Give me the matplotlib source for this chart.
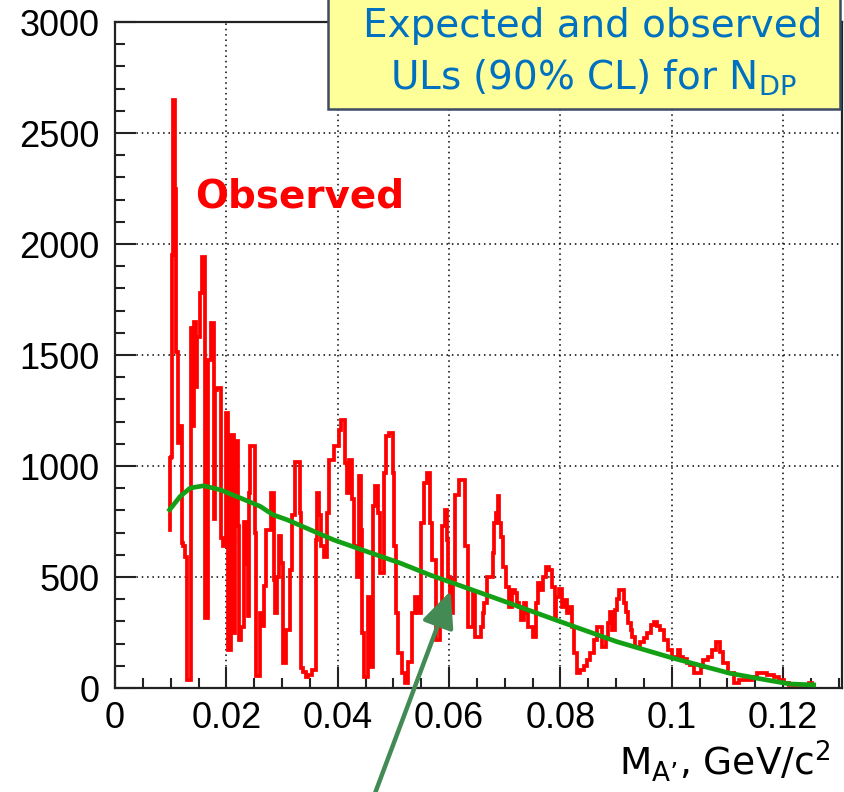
import numpy as np
import matplotlib.pyplot as plt
from matplotlib.patches import Rectangle, FancyArrowPatch
from matplotlib.ticker import MultipleLocator

plt.rcParams.update({"mathtext.default": "regular"})

# observed upper limit (red)
obs_mass = [
    0.0098, 0.0099, 0.0101, 0.0102, 0.0104, 0.0105, 0.0107, 0.0108, 0.0110, 0.0112,
    0.0113, 0.0116, 0.0119, 0.0120, 0.0124, 0.0126, 0.0129, 0.0130, 0.0136, 0.0137,
    0.0139, 0.0140, 0.0142, 0.0145, 0.0146, 0.0148, 0.0151, 0.0153, 0.0156, 0.0158,
    0.0161, 0.0163, 0.0166, 0.0168, 0.0171, 0.0173, 0.0176, 0.0178, 0.0180, 0.0183,
    0.0185, 0.0190, 0.0192, 0.0195, 0.0198, 0.0199, 0.0202, 0.0204, 0.0207, 0.0209,
    0.0213, 0.0215, 0.0217, 0.0220, 0.0222, 0.0224, 0.0226, 0.0228, 0.0231, 0.0234,
    0.0237, 0.0239, 0.0241, 0.0245, 0.0251, 0.0253, 0.0255, 0.0259, 0.0262, 0.0266,
    0.0270, 0.0274, 0.0278, 0.0281, 0.0284, 0.0286, 0.0289, 0.0293, 0.0296, 0.0300,
    0.0303, 0.0306, 0.0310, 0.0313, 0.0316, 0.0321, 0.0327, 0.0331, 0.0333, 0.0335,
    0.0340, 0.0345, 0.0350, 0.0356, 0.0360, 0.0362, 0.0365, 0.0368, 0.0372, 0.0378,
    0.0382, 0.0387, 0.0392, 0.0395, 0.0400, 0.0404, 0.0408, 0.0412, 0.0415, 0.0419,
    0.0423, 0.0427, 0.0432, 0.0436, 0.0440, 0.0442, 0.0445, 0.0449, 0.0452, 0.0456,
    0.0461, 0.0465, 0.0470, 0.0473, 0.0478, 0.0482, 0.0486, 0.0489, 0.0494, 0.0497,
    0.0500, 0.0503, 0.0506, 0.0512, 0.0518, 0.0524, 0.0530, 0.0536, 0.0542, 0.0548,
    0.0553, 0.0558, 0.0563, 0.0568, 0.0571, 0.0575, 0.0579, 0.0583, 0.0586, 0.0590,
    0.0594, 0.0597, 0.0601, 0.0604, 0.0609, 0.0614, 0.0620, 0.0626, 0.0630, 0.0637,
    0.0641, 0.0645, 0.0650, 0.0656, 0.0659, 0.0662, 0.0665, 0.0671, 0.0677, 0.0680,
    0.0683, 0.0686, 0.0689, 0.0692, 0.0695, 0.0700, 0.0706, 0.0711, 0.0716, 0.0720,
    0.0723, 0.0728, 0.0732, 0.0736, 0.0740, 0.0745, 0.0748, 0.0753, 0.0758, 0.0762,
    0.0767, 0.0771, 0.0777, 0.0782, 0.0788, 0.0791, 0.0794, 0.0800, 0.0806, 0.0809,
    0.0813, 0.0819, 0.0823, 0.0827, 0.0833, 0.0839, 0.0845, 0.0850, 0.0856, 0.0863,
    0.0867, 0.0872, 0.0876, 0.0880, 0.0884, 0.0887, 0.0891, 0.0895, 0.0900, 0.0904,
    0.0908, 0.0912, 0.0916, 0.0920, 0.0924, 0.0928, 0.0931, 0.0938, 0.0947, 0.0953,
    0.0959, 0.0965, 0.0970, 0.0976, 0.0982, 0.0991, 0.0997, 0.1003, 0.1009, 0.1012,
    0.1018, 0.1024, 0.1030, 0.1036, 0.1045, 0.1050, 0.1054, 0.1060, 0.1069, 0.1075,
    0.1083, 0.1090, 0.1096, 0.1105, 0.1117, 0.1126, 0.1138, 0.1150, 0.1156, 0.1165,
    0.1177, 0.1189, 0.1198, 0.1204, 0.1216, 0.1240, 0.1252,
]
obs_limit = [
    713, 1035, 1040, 1950, 1950, 2650, 2650, 2250, 1515, 1515,
    1102, 1178, 1178, 652, 640, 592, 592, 37, 37, 1620,
    1620, 1178, 1650, 1650, 1358, 1583, 1583, 1778, 1778, 1940,
    1940, 315, 315, 1478, 1478, 1643, 1643, 763, 1343, 1343,
    1351, 1351, 675, 640, 640, 1238, 1238, 172, 172, 1140,
    1140, 250, 998, 1114, 728, 217, 217, 277, 277, 746,
    560, 325, 877, 1088, 1088, 700, 52, 52, 337, 280,
    460, 712, 712, 877, 877, 487, 337, 500, 683, 562,
    112, 112, 262, 262, 532, 780, 1020, 1020, 787, 90,
    70, 50, 60, 82, 82, 667, 877, 780, 640, 592,
    787, 1028, 1028, 1088, 1088, 1163, 1208, 1208, 1013, 877,
    1028, 850, 638, 500, 953, 713, 250, 51, 51, 412,
    96, 818, 908, 788, 517, 517, 968, 1134, 1148, 1148,
    968, 638, 337, 157, 67, 23, 117, 337, 412, 337,
    743, 923, 968, 743, 578, 578, 217, 217, 337, 728,
    803, 668, 502, 337, 487, 868, 938, 938, 638, 277,
    277, 427, 232, 232, 277, 337, 382, 502, 502, 607,
    743, 788, 863, 743, 682, 547, 457, 367, 442, 427,
    382, 367, 307, 382, 337, 277, 277, 232, 382, 472,
    442, 502, 547, 532, 457, 322, 412, 447, 367, 397,
    337, 367, 277, 157, 67, 80, 97, 127, 157, 216,
    276, 276, 186, 186, 231, 291, 344, 261, 351, 400,
    441, 441, 381, 341, 291, 261, 231, 186, 209, 224,
    246, 285, 298, 280, 261, 216, 171, 141, 141, 171,
    141, 130, 111, 105, 66, 66, 96, 126, 141, 171,
    209, 160, 111, 66, 21, 36, 36, 51, 66, 66,
    59, 51, 36, 21, 14, 14, 21,
]

# expected upper limit (green)
exp_mass = [0.0098, 0.0117, 0.0135, 0.0159, 0.0189, 0.0225, 0.0261, 0.0284,
            0.0309, 0.0344, 0.0392, 0.0452, 0.0512, 0.0565, 0.0608, 0.0692,
            0.0800, 0.0901, 0.1003, 0.1105, 0.1171, 0.1213, 0.1255]
exp_limit = [803, 863, 901, 911, 893, 856, 818, 780, 758, 720, 668, 615,
             563, 510, 472, 397, 299, 209, 134, 66, 36, 18, 14]

x_ticks = [0, 0.02, 0.04, 0.06, 0.08, 0.1, 0.12]
x_tick_labels = ["0", "0.02", "0.04", "0.06", "0.08", "0.1", "0.12"]
y_ticks = [0, 500, 1000, 1500, 2000, 2500, 3000]

fig = plt.figure(figsize=(8.44, 7.92), dpi=100)
ax = fig.add_axes([0.1363, 0.1313, 0.8614, 0.8409])

ax.plot(obs_mass, obs_limit, color="#ff0000", lw=2.7, drawstyle="steps-mid",
        solid_joinstyle="miter", zorder=3)
ax.plot(exp_mass, exp_limit, color="#14a014", lw=3.4, zorder=4)

ax.set_xlim(0, 0.1306)
ax.set_ylim(0, 3000)
ax.set_xticks(x_ticks)
ax.set_xticklabels(x_tick_labels)
ax.set_yticks(y_ticks)
ax.xaxis.set_minor_locator(MultipleLocator(0.005))
ax.yaxis.set_minor_locator(MultipleLocator(100))
ax.tick_params(which="both", direction="in", top=False, right=False,
               width=1.5, color="#222222")
ax.tick_params(which="major", length=15, labelsize=26)
ax.tick_params(axis="y", which="major", pad=11)
ax.tick_params(axis="x", which="major", pad=9)
ax.tick_params(which="minor", length=7.5)
for lab in ax.get_xticklabels() + ax.get_yticklabels():
    lab.set_fontfamily("Liberation Sans")
ax.grid(True, which="major", color="black", lw=1.1, linestyle=(0, (1, 2.5)))
for s in ax.spines.values():
    s.set_linewidth(1.6)
    s.set_color("#222222")

fig.text(0.231, 0.7386, "Observed", color="#ff0000", fontsize=28,
         fontweight="bold", ha="left", va="baseline")

fig.text(0.9834, 0.021, "M$_{A\u2019}$, GeV/c$^{2}$", fontsize=27,
         ha="right", va="baseline", color="black")

box = Rectangle((0.3886, 0.8624), 0.6066, 0.16, transform=fig.transFigure,
                facecolor="#ffff99", edgecolor="#3c4a66", lw=1.8, zorder=10)
fig.patches.append(box)
fig.text(0.7026, 0.9537, "Expected and observed", color="#0070c0",
         fontsize=28, ha="center", va="baseline", zorder=11)
fig.text(0.7026, 0.8864, "ULs (90% CL) for N$_{DP}$", color="#0070c0",
         fontsize=28, ha="center", va="baseline", zorder=11)

arrow = FancyArrowPatch((374 / 844, -0.005), (451.7 / 844, 1 - 588.3 / 792),
                        transform=fig.transFigure,
                        arrowstyle="-|>,head_length=1.0,head_width=0.45",
                        mutation_scale=22, color="#438a55", lw=3.2, zorder=12)
fig.patches.append(arrow)

fig.savefig("out.png", dpi=100)
